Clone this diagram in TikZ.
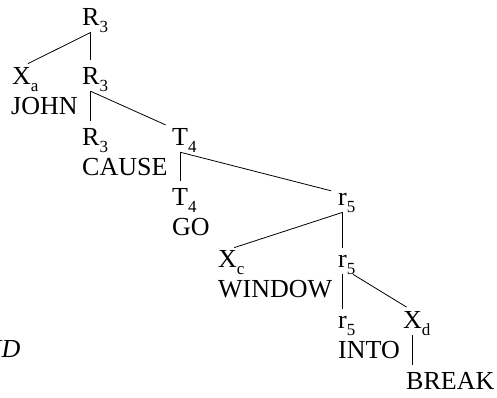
\documentclass[tikz,border=0pt]{standalone}
\usepackage{fontspec}
\setmainfont{Liberation Serif}
\newcommand{\sbs}[1]{\rlap{\raisebox{-7pt}{\fontsize{17}{17}\selectfont #1}}}
\begin{document}
\begin{tikzpicture}[x=1pt,y=-1pt,
	font=\fontsize{26}{30}\selectfont,
	lab/.style={anchor=base west,inner sep=0pt},
	word/.style={anchor=base west,inner sep=0pt},
	edge/.style={line width=0.8pt,shorten >=7pt}]

		\useasboundingbox (0,0) rectangle (497,397);

		\node[lab] (r0) at (82,25) {R\sbs{3}};

		\node[lab] (xa) at (12,84) {X\sbs{a}};
		\node[lab] (r1) at (82,84) {R\sbs{3}};
		\node[word] (john) at (11,114) {JOHN};

		\node[lab] (r2) at (82,145) {R\sbs{3}};
		\node[lab] (t0) at (172,145) {T\sbs{4}};
		\node[word] (cause) at (82,175) {CAUSE};

		\node[lab] (t1) at (172,205) {T\sbs{4}};
		\node[lab] (s0) at (338,205) {r\sbs{5}};
		\node[word] (go) at (172,235) {GO};

		\node[lab] (xc) at (218,267) {X\sbs{c}};
		\node[lab] (s1) at (338,267) {r\sbs{5}};
		\node[word] (window) at (218,297) {WINDOW};

		\node[lab] (s2) at (338,328) {r\sbs{5}};
		\node[lab] (xd) at (403,328) {X\sbs{d}};
		\node[word] (into) at (338,358) {INTO};
		\node[word] (brk) at (406,389) {BREAK};

		\node[anchor=base east,inner sep=0pt] (nd) at (20.5,357) {\textit{ND}};

		\draw[edge] (r0.south) -- (xa.north);
		\draw[edge] (r0.south) -- (r1.north);

		\draw[edge] (r1.south) -- (r2.north);
		\draw[edge] (r1.south) -- (t0.north west);

		\draw[edge] (t0.south) -- (t1.north);
		\draw[edge] (t0.south) -- (s0.north west);

		\draw[edge] (s0.south) -- (s1.north);
		\draw[edge] (s0.south) -- (xc.north);

		\draw[edge] (s1.south) -- (s2.north);
		\draw[edge] ([xshift=6pt]s1.south east) -- (xd.north);

		\draw[edge] (xd.south) -- (xd.south |- brk.north);

\end{tikzpicture}
\end{document}
